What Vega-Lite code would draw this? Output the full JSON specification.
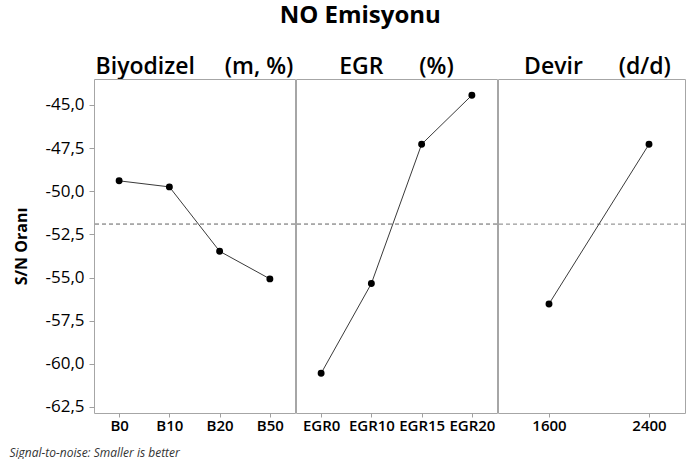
{
  "$schema": "https://vega.github.io/schema/vega-lite/v6.json",
  "padding": {"left": 8, "top": 4, "right": 0, "bottom": 0},
  "background": "white",
  "title": {"text": "NO Emisyonu", "font": "Open Sans", "fontSize": 24, "fontWeight": "bold", "color": "#000000", "anchor": "middle", "dx": 13, "offset": 26},
  "datasets": {
    "sn": [
      {"factor": "Biyodizel", "level": "B0", "sn": -49.40},
      {"factor": "Biyodizel", "level": "B10", "sn": -49.75},
      {"factor": "Biyodizel", "level": "B20", "sn": -53.48},
      {"factor": "Biyodizel", "level": "B50", "sn": -55.08},
      {"factor": "EGR", "level": "EGR0", "sn": -60.55},
      {"factor": "EGR", "level": "EGR10", "sn": -55.35},
      {"factor": "EGR", "level": "EGR15", "sn": -47.28},
      {"factor": "EGR", "level": "EGR20", "sn": -44.44},
      {"factor": "Devir", "level": "1600", "sn": -56.53},
      {"factor": "Devir", "level": "2400", "sn": -47.28}
    ],
    "headers": [
      {"factor": "Biyodizel", "label": "Biyodizel\u00a0\u00a0\u00a0\u00a0\u00a0(m,\u00a0%)"},
      {"factor": "EGR", "label": "EGR\u00a0\u00a0\u00a0\u00a0\u00a0\u00a0(%)"},
      {"factor": "Devir", "label": "Devir\u00a0\u00a0\u00a0\u00a0\u00a0\u00a0(d/d)"}
    ]
  },
  "spacing": -2,
  "hconcat": [
    {
      "spacing": 0,
      "bounds": "flush",
      "vconcat": [
        {
          "width": 201, "height": 25,
          "data": {"name": "headers"},
          "transform": [{"filter": "datum.factor === 'Biyodizel'"}],
          "mark": {"type": "text", "font": "Open Sans", "fontSize": 23, "fontWeight": 600, "color": "#000000"},
          "encoding": {"text": {"field": "label"}}
        },
        {
          "width": 201, "height": 334,
          "data": {"name": "sn"},
          "transform": [{"filter": "datum.factor === 'Biyodizel'"}],
          "encoding": {
            "x": {"field": "level", "type": "ordinal", "sort": null, "scale": {"type": "point", "padding": 0.5},
              "axis": {"title": "Signal-to-noise: Smaller is better", "titleFont": "Open Sans", "titleFontStyle": "italic", "titleFontWeight": "normal", "titleFontSize": 12, "titleColor": "#333333", "titleAnchor": "start", "titleAlign": "left", "titleX": -85, "titleY": 43, "titleBaseline": "alphabetic"}},
            "y": {"field": "sn", "type": "quantitative", "scale": {"domain": [-62.85, -43.5], "nice": false, "zero": false},
              "axis": {"title": "S/N Oranı", "values": [-62.5, -60, -57.5, -55, -52.5, -50, -47.5, -45], "labelExpr": "replace(replace(format(datum.value, '.1f'), '.', ','), '\u2212', '-')"}}
          },
          "layer": [
            {"mark": {"type": "rule", "color": "#a8a8a8", "strokeDash": [4, 3], "strokeWidth": 1}, "encoding": {"x": null, "y": {"datum": -51.91}}},
            {"mark": {"type": "line", "color": "#3a3a3a", "strokeWidth": 1}},
            {"mark": {"type": "point", "filled": true, "color": "#000000", "size": 48, "opacity": 1}}
          ]
        }
      ]
    },
    {
      "spacing": 0,
      "bounds": "flush",
      "vconcat": [
        {
          "width": 201, "height": 25,
          "data": {"name": "headers"},
          "transform": [{"filter": "datum.factor === 'EGR'"}],
          "mark": {"type": "text", "font": "Open Sans", "fontSize": 23, "fontWeight": 600, "color": "#000000"},
          "encoding": {"text": {"field": "label"}}
        },
        {
          "width": 201, "height": 334,
          "data": {"name": "sn"},
          "transform": [{"filter": "datum.factor === 'EGR'"}],
          "encoding": {
            "x": {"field": "level", "type": "ordinal", "sort": null, "scale": {"type": "point", "padding": 0.5}, "axis": {"title": null}},
            "y": {"field": "sn", "type": "quantitative", "scale": {"domain": [-62.85, -43.5], "nice": false, "zero": false}, "axis": null}
          },
          "layer": [
            {"mark": {"type": "rule", "color": "#a8a8a8", "strokeDash": [4, 3], "strokeWidth": 1}, "encoding": {"x": null, "y": {"datum": -51.91}}},
            {"mark": {"type": "line", "color": "#3a3a3a", "strokeWidth": 1}},
            {"mark": {"type": "point", "filled": true, "color": "#000000", "size": 48, "opacity": 1}}
          ]
        }
      ]
    },
    {
      "spacing": 0,
      "bounds": "flush",
      "vconcat": [
        {
          "width": 187, "height": 25,
          "data": {"name": "headers"},
          "transform": [{"filter": "datum.factor === 'Devir'"}],
          "mark": {"type": "text", "font": "Open Sans", "fontSize": 23, "fontWeight": 600, "color": "#000000", "dx": 6},
          "encoding": {"text": {"field": "label"}}
        },
        {
          "width": 187, "height": 334,
          "data": {"name": "sn"},
          "transform": [{"filter": "datum.factor === 'Devir'"}],
          "encoding": {
            "x": {"field": "level", "type": "ordinal", "sort": null, "scale": {"type": "point", "padding": 0, "range": [51, 151]}, "axis": {"title": null}},
            "y": {"field": "sn", "type": "quantitative", "scale": {"domain": [-62.85, -43.5], "nice": false, "zero": false}, "axis": null}
          },
          "layer": [
            {"mark": {"type": "rule", "color": "#a8a8a8", "strokeDash": [4, 3], "strokeWidth": 1}, "encoding": {"x": null, "y": {"datum": -51.91}}},
            {"mark": {"type": "line", "color": "#3a3a3a", "strokeWidth": 1}},
            {"mark": {"type": "point", "filled": true, "color": "#000000", "size": 48, "opacity": 1}}
          ]
        }
      ]
    }
  ],
  "config": {
    "font": "Open Sans",
    "view": {"stroke": "#a6a6a6", "strokeWidth": 1},
    "axis": {
      "grid": false, "domain": false, "ticks": true, "tickColor": "#a0a0a0", "tickSize": 5,
      "labelFont": "Open Sans", "labelColor": "#000000", "labelPadding": 5,
      "titleFont": "Open Sans", "titleColor": "#000000"
    },
    "axisX": {"labelAngle": 0, "labelFontSize": 15, "labelFontWeight": 600, "labelPadding": 1, "tickSize": 4},
    "axisY": {"labelFontSize": 17, "titleFontSize": 16, "titleFontWeight": "bold", "titlePadding": 15}
  }
}
